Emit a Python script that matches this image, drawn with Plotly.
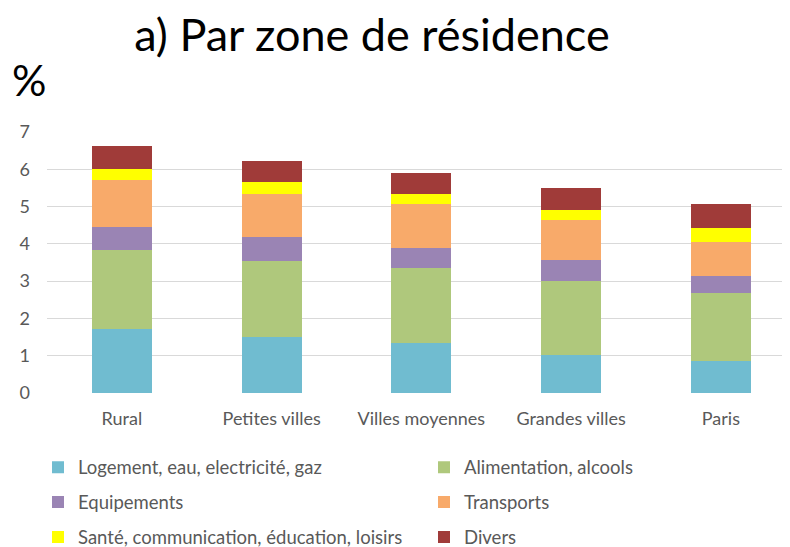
import plotly.graph_objects as go

categories = ["Rural", "Petites villes", "Villes moyennes", "Grandes villes", "Paris"]
logement = [1.72, 1.50, 1.33, 1.03, 0.87]
alimentation = [2.12, 2.05, 2.02, 1.98, 1.80]
equipements = [0.60, 0.63, 0.55, 0.57, 0.48]
transports = [1.28, 1.17, 1.18, 1.06, 0.91]
sante = [0.30, 0.31, 0.26, 0.28, 0.37]
divers = [0.61, 0.57, 0.55, 0.57, 0.63]

series_names = [
    "Logement, eau, electricité, gaz",
    "Alimentation, alcools",
    "Equipements",
    "Transports",
    "Santé, communication, éducation, loisirs",
    "Divers",
]
series_values = [logement, alimentation, equipements, transports, sante, divers]
colors = ["#70BCD0", "#AFC87C", "#9A84B4", "#F8AA6A", "#FFFF00", "#A03B39"]
legend_ids = ["legend", "legend", "legend2", "legend2", "legend3", "legend3"]

FONT = "Lato"
GRAY = "#595959"

fig = go.Figure()
for name, vals, col, lg in zip(series_names, series_values, colors, legend_ids):
    fig.add_trace(go.Bar(
        x=categories, y=vals, name=name,
        marker=dict(color=col, line=dict(width=0)),
        legend=lg,
    ))

# The page adds an 8px body margin, so the figure is drawn 8px in and 8px down.
OFF = 8
W, H = 790 - OFF, 547 - OFF
ml, mr = 47 - OFF, 0
mt = 132 - OFF
mb = H - (393.3 - OFF)
pw = W - ml - mr
ph = H - mt - mb


def py(page_y):
    return (H - mb - (page_y - OFF)) / ph


def px(page_x):
    return (page_x - OFF - ml) / pw


leg_common = dict(
    orientation="h", xanchor="left", yanchor="middle",
    font=dict(family=FONT, size=18.5, color=GRAY),
    entrywidth=341, entrywidthmode="pixels",
    bgcolor="rgba(0,0,0,0)", traceorder="normal",
)

leg_x = px(38)

fig.update_layout(
    width=W, height=H,
    margin=dict(l=ml, r=mr, t=mt, b=mb, pad=0, autoexpand=False),
    paper_bgcolor="white", plot_bgcolor="white",
    barmode="stack", bargap=0.6,
    font=dict(family=FONT, color=GRAY),
    title=dict(
        text="a) Par zone de résidence",
        font=dict(family=FONT, size=45, color="#000000"),
        x=(372 - OFF) / W, xanchor="center", xref="container",
        y=1 - (35 - OFF) / H, yanchor="middle", yref="container",
    ),
    xaxis=dict(
        range=[-0.5, -0.5 + pw / 149.75],
        showgrid=False, zeroline=False, showline=False,
        ticks="", tickfont=dict(family=FONT, size=18, color=GRAY),
        ticklabelstandoff=13,
    ),
    yaxis=dict(
        range=[0, 7], dtick=1, tick0=0,
        showgrid=True, gridcolor="#D9D9D9", gridwidth=1.3,
        zeroline=False, showline=False, ticks="",
        tickfont=dict(family=FONT, size=18, color=GRAY),
        ticklabelstandoff=16,
    ),
    legend=dict(x=leg_x, y=py(468), **leg_common),
    legend2=dict(x=leg_x, y=py(503), **leg_common),
    legend3=dict(x=leg_x, y=py(538), **leg_common),
    annotations=[
        dict(text="%", xref="paper", yref="paper", x=px(10), y=py(79),
             xanchor="left", yanchor="middle", showarrow=False,
             font=dict(family=FONT, size=43, color="#000000")),
    ],
)

fig.write_html("out.html")
